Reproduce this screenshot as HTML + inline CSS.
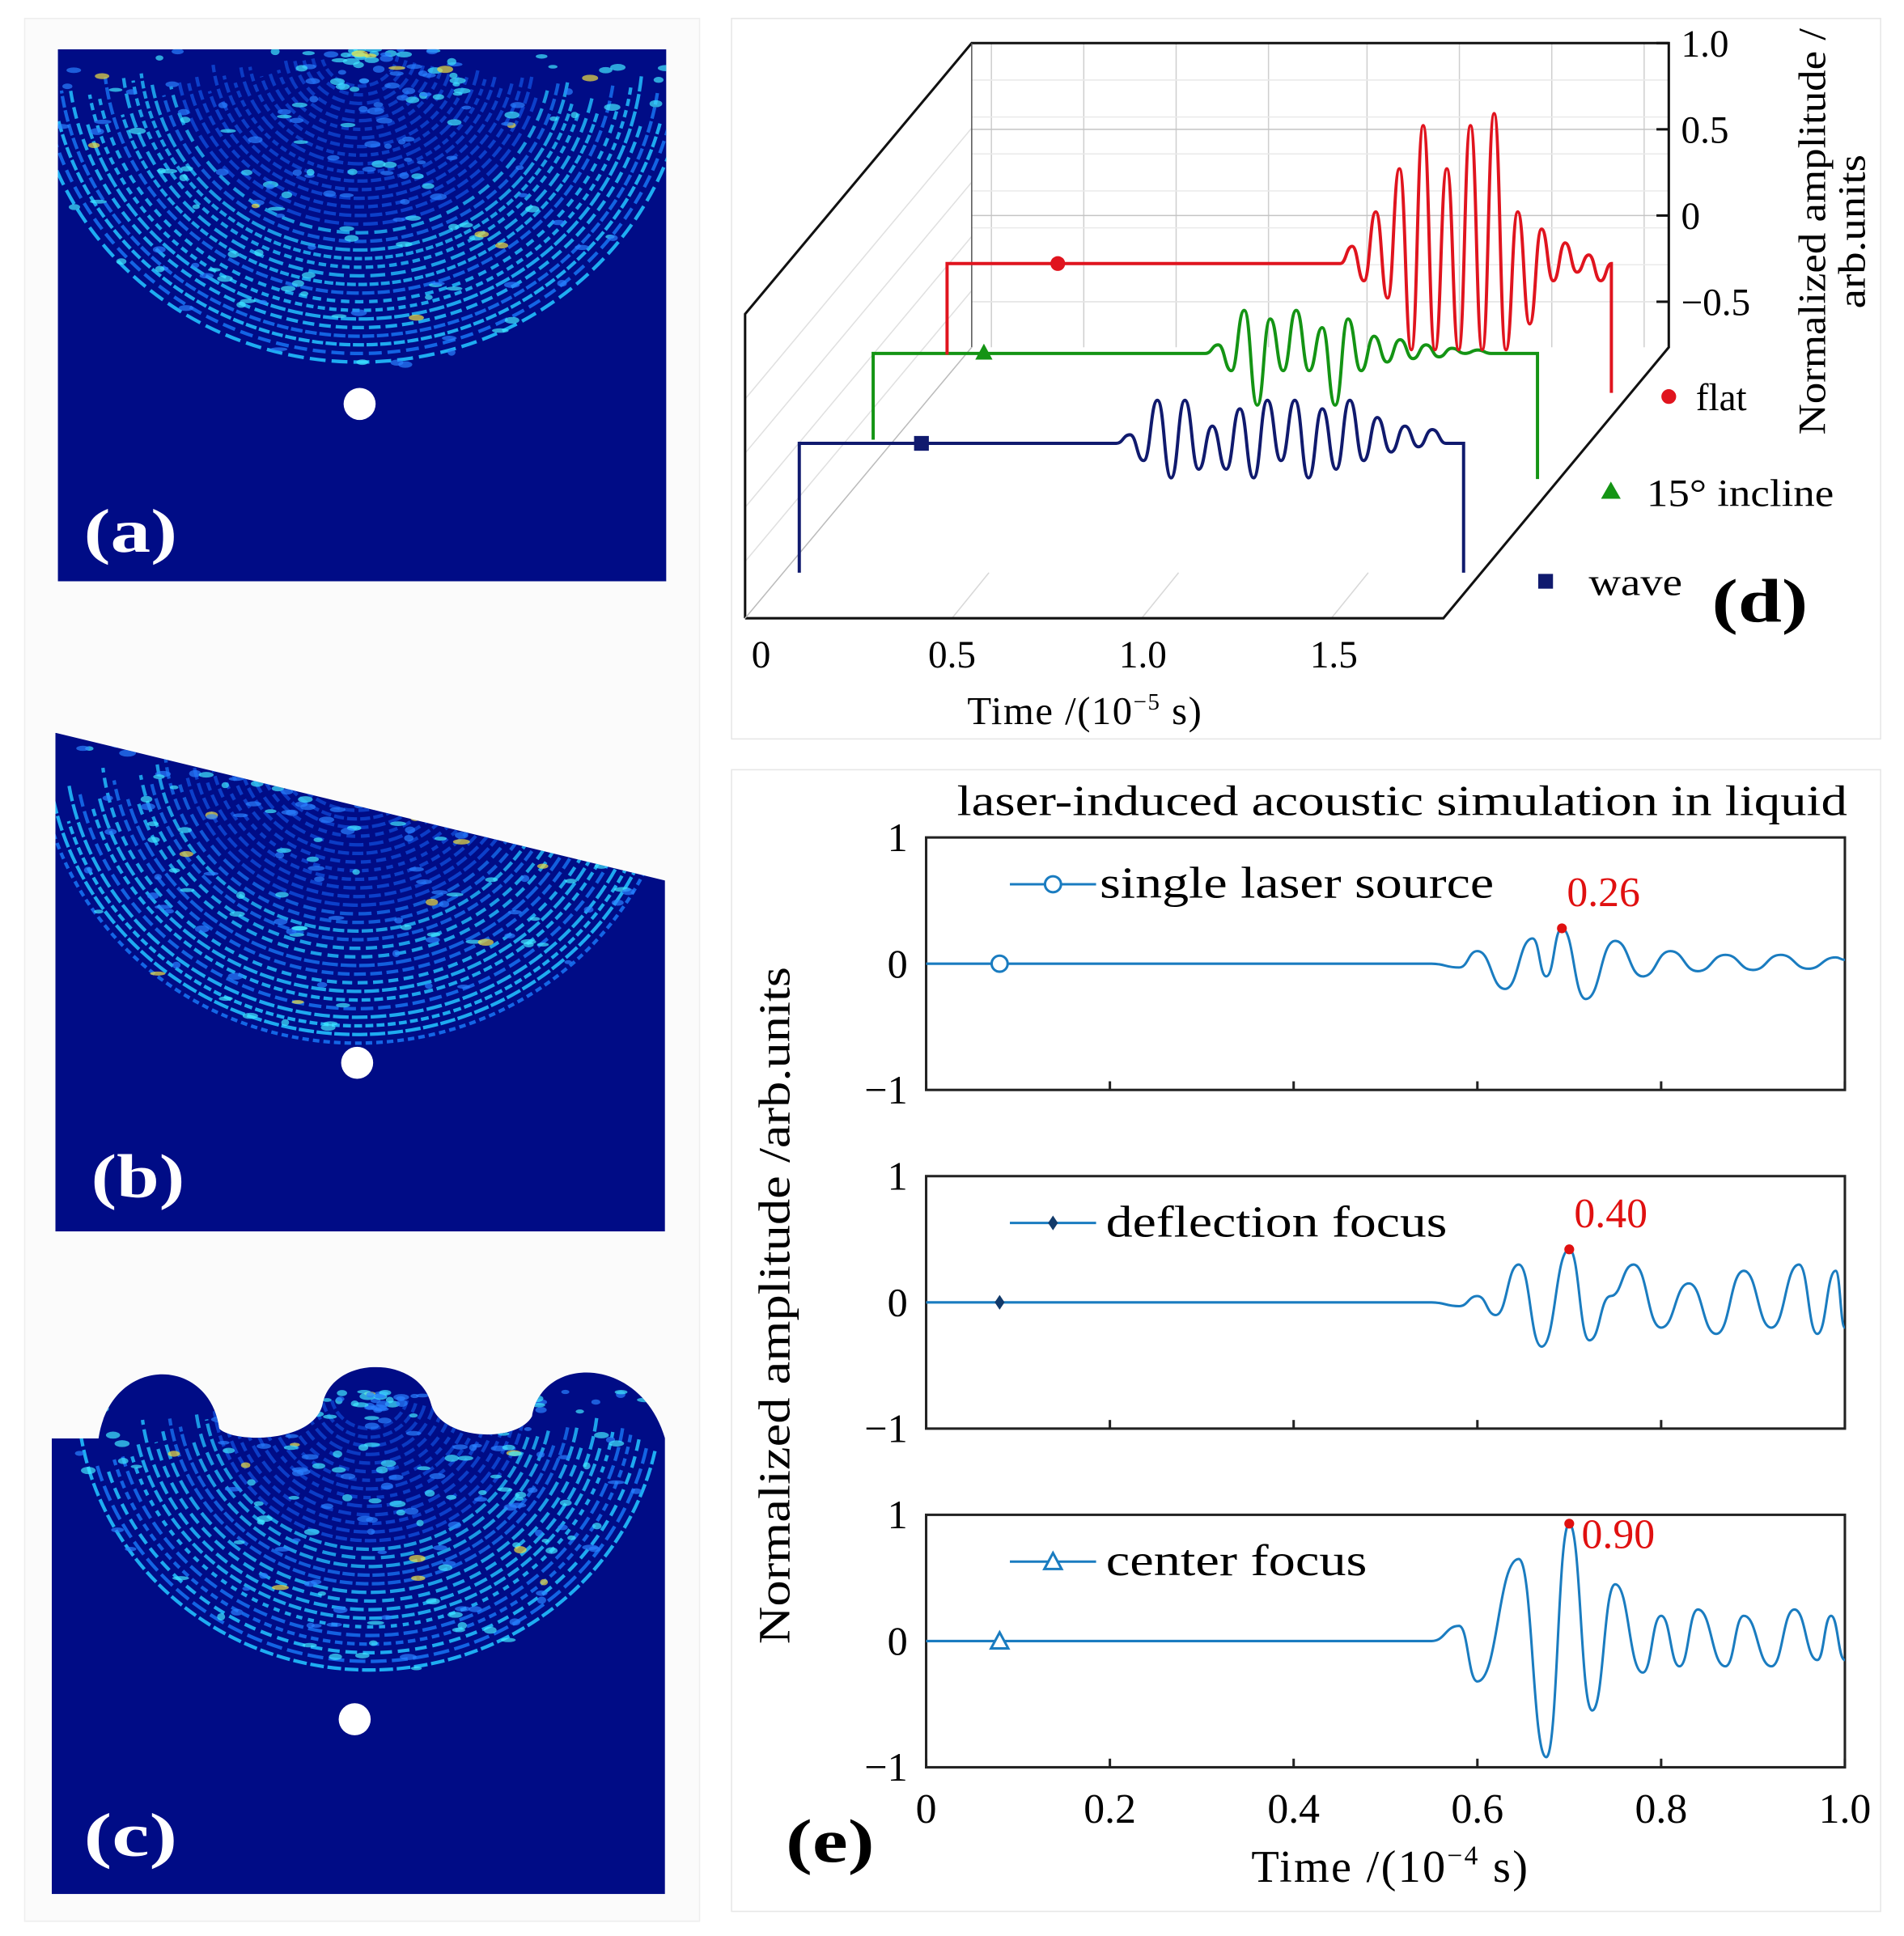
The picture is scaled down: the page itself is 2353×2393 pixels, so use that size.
<!DOCTYPE html>
<html><head><meta charset="utf-8">
<style>
html,body{margin:0;padding:0;background:#fff;}
svg{display:block;}
text{font-family:"Liberation Serif",serif;}
</style></head>
<body>
<svg id="fig" xmlns="http://www.w3.org/2000/svg" width="2353" height="2393" viewBox="0 0 1546 1572" preserveAspectRatio="none">
<defs>
<clipPath id="clipA"><rect x="47" y="40" width="494" height="432"/></clipPath>
<clipPath id="clipB"><polygon points="45,595 540,715 540,1000 45,1000"/></clipPath>
<clipPath id="clipC"><path d="M42,1168 L80,1168 C90,1100 170,1100 178,1160 C190,1172 255,1172 262,1140 C270,1100 340,1100 350,1140 C358,1170 420,1172 432,1150 C440,1100 520,1100 540,1168 L540,1538 L42,1538 Z"/></clipPath>
</defs>
<rect x="0" y="0" width="1546" height="1572" fill="#fff"/>
<rect x="20" y="15" width="548" height="1545" fill="#fbfbfb" stroke="#eeeeee"/>
<rect x="594" y="15" width="933" height="585" fill="#fff" stroke="#e6e6e6"/>
<rect x="594" y="625" width="933" height="927" fill="#fff" stroke="#e6e6e6"/>
<g id="heatmaps"></g>
<g id="pd"></g>
<g id="pe"></g>
</svg>
<script>
// ---------- Panel (d) data ----------
const dSeriesNames = ["wave", "15° incline", "flat"];
const dColors = ["#101a6e", "#149414", "#e0141e"];
const dStartT = [0.93, 0.97, 1.13];
const dHalfStep = [0.036, 0.034, 0.031];
const dMarkerT = [0.42, 0.39, 0.39];
const dBlueVals = [0.05,-0.1,0.25,-0.2,0.25,-0.15,0.1,-0.15,0.2,-0.2,0.25,-0.1,0.25,-0.2,0.2,-0.15,0.25,-0.1,0.15,-0.05,0.1,-0.02,0.08,0];
const dGreenVals = [0.05,-0.1,0.25,-0.3,0.2,-0.1,0.25,-0.1,0.15,-0.3,0.2,-0.1,0.1,-0.05,0.08,-0.03,0.05,-0.02,0.03,0,0.02,0];
const dRedVals = [0.1,-0.1,0.3,-0.2,0.55,-0.5,0.8,-0.5,0.55,-0.5,0.8,-0.5,0.87,-0.5,0.3,-0.35,0.2,-0.1,0.12,-0.05,0.05,-0.1];
const dTicks = [0, 0.5, 1.0, 1.5];
const dZTicks = ["1.0","0.5","0","−0.5"];
const dZVals = [1.0, 0.5, 0, -0.5];

// ---------- Panel (e) data ----------
const eNames = ["single laser source", "deflection focus", "center focus"];
const eNameWidths = [320, 277, 212];
const ePeakLabels = ["0.26", "0.40", "0.90"];
const ePeakT = [0.692, 0.700, 0.700];
const ePeakV = [0.28, 0.42, 0.93];
const eT1 = [0.55,0.58,0.60,0.63,0.66,0.675,0.692,0.718,0.75,0.78,0.81,0.84,0.87,0.90,0.93,0.96,0.99,1.0];
const eV1 = [0,-0.03,0.1,-0.2,0.2,-0.1,0.28,-0.28,0.18,-0.1,0.1,-0.06,0.07,-0.05,0.07,-0.04,0.05,0.03];
const eT2 = [0.55,0.58,0.60,0.62,0.645,0.67,0.70,0.722,0.745,0.77,0.80,0.83,0.86,0.89,0.92,0.95,0.97,0.99,1.0];
const eV2 = [0,-0.03,0.05,-0.1,0.3,-0.35,0.42,-0.3,0.05,0.3,-0.2,0.15,-0.25,0.25,-0.2,0.3,-0.25,0.25,-0.2];
const eT3 = [0.55,0.58,0.60,0.645,0.675,0.70,0.725,0.75,0.78,0.80,0.82,0.84,0.87,0.89,0.92,0.945,0.97,0.985,1.0];
const eV3 = [0,0.12,-0.32,0.65,-0.92,0.93,-0.55,0.45,-0.25,0.2,-0.2,0.25,-0.2,0.2,-0.2,0.25,-0.15,0.2,-0.15];
const eXTicks = [0, 0.2, 0.4, 0.6, 0.8, 1.0];
const eXTickLabels = ["0","0.2","0.4","0.6","0.8","1.0"];
const eYTicks = [1, 0, -1];
const eYTickLabels = ["1","0","−1"];

const NS = "http://www.w3.org/2000/svg";
function mk(tag, attrs, parent, txt) {
  const e = document.createElementNS(NS, tag);
  for (const k in attrs) e.setAttribute(k, attrs[k]);
  if (txt !== undefined) e.textContent = txt;
  parent.appendChild(e);
  return e;
}
function smoothPath(pts) {
  let d = "M" + pts[0][0].toFixed(1) + "," + pts[0][1].toFixed(1);
  for (let i = 1; i < pts.length; i++) {
    const [x0, y0] = pts[i - 1], [x1, y1] = pts[i];
    const mx = (x0 + x1) / 2;
    d += " C" + mx.toFixed(1) + "," + y0.toFixed(1) + " " + mx.toFixed(1) + "," + y1.toFixed(1) + " " + x1.toFixed(1) + "," + y1.toFixed(1);
  }
  return d;
}

// ---------- Heatmaps (decorative texture) ----------
(function () {
  const g = document.getElementById("heatmaps");
  let seed = 7;
  function rnd() { seed = (seed * 16807) % 2147483647; return seed / 2147483647; }
  const panels = [
    { clip: "clipA", name: "heatmap-a", bx: 47, by: 40, bw: 494, bh: 432, cx: 292, cy: 40, dot: [292, 328], lab: "(a)", lx: 68, ly: 448, rmax: 260 },
    { clip: "clipB", name: "heatmap-b", bx: 45, by: 595, bw: 495, bh: 405, cx: 290, cy: 600, dot: [290, 863], lab: "(b)", lx: 74, ly: 972, rmax: 250 },
    { clip: "clipC", name: "heatmap-c", bx: 42, by: 1100, bw: 498, bh: 438, cx: 300, cy: 1130, dot: [288, 1396], lab: "(c)", lx: 68, ly: 1507, rmax: 230 }
  ];
  panels.forEach(p => {
    const pg = mk("g", { "clip-path": "url(#" + p.clip + ")" }, g);
    
    
    mk("rect", { x: p.bx, y: p.by, width: p.bw, height: p.bh, fill: "#000c86" }, pg);
    for (let r = 30; r < p.rmax; r += 7) {
      const a0 = 0.1 + rnd() * 0.2, a1 = Math.PI - 0.1 - rnd() * 0.2;
      const x0 = p.cx + r * 1.05 * Math.cos(a0), y0 = p.cy + r * Math.sin(a0);
      const x1 = p.cx + r * 1.05 * Math.cos(a1), y1 = p.cy + r * Math.sin(a1);
      const frac = r / p.rmax;
      const col = frac > 0.55 ? (rnd() > 0.4 ? "#22c0ff" : "#1670f0") : "#1050e0";
      mk("path", { d: `M${x0},${y0} A${r * 1.05},${r} 0 0 1 ${x1},${y1}`, fill: "none", stroke: col, "stroke-width": 2.8, "stroke-dasharray": (5 + rnd() * 8).toFixed(1) + " " + (2 + rnd() * 3).toFixed(1), opacity: 0.6 + 0.3 * frac }, pg);
    }
    for (let i = 0; i < 200; i++) {
      const a = rnd() * Math.PI, r = rnd() * p.rmax;
      const x = p.cx + r * 1.05 * Math.cos(a), y = p.cy + r * Math.sin(a);
      const c = rnd();
      mk("ellipse", { cx: x, cy: y, rx: 3 + rnd() * 4, ry: 1.5 + rnd() * 1.5, fill: c > 0.93 ? "#f0e040" : (c > 0.45 ? "#40e8ff" : "#2a80ff"), opacity: 0.7 }, pg);
    }
    const dot = mk("circle", { cx: p.dot[0], cy: p.dot[1], r: 13, fill: "#fff" }, g);
    
    
    const t = mk("text", { x: p.lx, y: p.ly, fill: "#fff", "font-size": 50, "font-weight": "bold", textLength: 76, lengthAdjust: "spacingAndGlyphs" }, g, p.lab);
    
    
  });
})();

// ---------- Panel (d) ----------
(function () {
  const g = document.getElementById("pd");
  const xF = t => 618 + 310 * t;
  const depthDx = 60, depthDy = -73, ampPx = 140;
  const baseY = 360;
  const grid = mk("g", { stroke: "#cfcfcf", "stroke-width": 1 }, g);
  
  
  [805, 880, 955, 1030, 1110, 1185, 1260, 1335].forEach(x => mk("line", { x1: x, y1: 35, x2: x, y2: 282 }, grid));
  dZVals.forEach(v => { const y = 175 - v * 140; mk("line", { x1: 789, y1: y, x2: 1355, y2: y, stroke: "#c4c4c4" }, grid); });
  for (let k = 1; k < 8; k++) {
    const y = 35 + k * 30; mk("line", { x1: 789, y1: y, x2: 1355, y2: y, stroke: "#eaeaea" }, grid);
  }
  for (let k = 1; k < 5; k++) {
    const yy = 280 + k * 44;
    mk("line", { x1: 605, y1: yy, x2: 789, y2: yy - 220, stroke: "#e0e0e0" }, grid);
  }
  [773, 927, 1081].forEach(x => mk("line", { x1: x, y1: 502, x2: x + 30, y2: 465, stroke: "#d8d8d8" }, grid));
  const ax = mk("g", { stroke: "#111", "stroke-width": 2, fill: "none" }, g);
  
  
  mk("polyline", { points: "605,502 605,255 789,35 1355,35 1355,282 1172,502 605,502" }, ax);
  mk("line", { x1: 789, y1: 35, x2: 789, y2: 282, stroke: "#555", "stroke-width": 1 }, ax);
  mk("line", { x1: 605, y1: 502, x2: 789, y2: 282, stroke: "#bbb", "stroke-width": 1 }, ax);
  dZVals.forEach((v, i) => {
    const y = 175 - v * 140;
    mk("line", { x1: 1355, y1: y, x2: 1345, y2: y, stroke: "#111", "stroke-width": 2 }, g);
    const t = mk("text", { x: 1365, y: y + 11, "font-size": 31 }, g, dZTicks[i]);
    
    
  });
  dTicks.forEach(v => {
    const t = mk("text", { x: xF(v), y: 542, "font-size": 31, "text-anchor": "middle" }, g, v === 0 ? "0" : v.toFixed(1));
    
    
  });
  const xt = mk("text", { x: 881, y: 588, "font-size": 32, "text-anchor": "middle", "letter-spacing": 1 }, g);
  
  
  xt.innerHTML = 'Time /(10<tspan dy="-12" font-size="19">−5</tspan><tspan dy="12"> s)</tspan>';
  const zt = mk("g", { transform: "translate(1482,188) rotate(-90)" }, g);
  
  
  mk("text", { x: 0, y: 0, "font-size": 31, "text-anchor": "middle", textLength: 330, lengthAdjust: "spacingAndGlyphs" }, zt, "Normalized amplitude /");
  mk("text", { x: 0, y: 32, "font-size": 31, "text-anchor": "middle", textLength: 125, lengthAdjust: "spacingAndGlyphs" }, zt, "arb.units");
  const vals = [dBlueVals, dGreenVals, dRedVals];
  const endDrop = [105, 102, 105];
  for (let i = 0; i < 3; i++) {
    const dx = depthDx * i, by = baseY + depthDy * i;
    const X = t => xF(t) + dx, Y = v => by - v * ampPx;
    const pts = [[X(0.1), Y(0)], [X(dStartT[i]), Y(0)]];
    vals[i].forEach((v, k) => pts.push([X(dStartT[i] + dHalfStep[i] * (k + 1)), Y(v)]));
    pts.push([X(1.84), Y(0)]);
    let d = "M" + X(0.1) + "," + (by + endDrop[i]) + " L" + X(0.1) + "," + by + " " + smoothPath(pts).replace(/^M/, "L") + " L" + X(1.84) + "," + (by + endDrop[i]);
    if (i === 1) d = d.replace(/^M[^L]*L/, "M" + X(0.1) + "," + (by + 70) + " L");
    if (i === 2) d = d.replace(/^M[^L]*L/, "M" + X(0.1) + "," + (by + 74) + " L");
    const p = mk("path", { d: d, fill: "none", stroke: dColors[i], "stroke-width": 2.6 }, g);
    
    
    const mx = X(dMarkerT[i]), my = by;
    let m;
    if (i === 0) m = mk("rect", { x: mx - 6, y: my - 6, width: 12, height: 12, fill: dColors[i] }, g);
    else if (i === 1) m = mk("polygon", { points: `${mx},${my - 8} ${mx - 7},${my + 5} ${mx + 7},${my + 5}`, fill: dColors[i] }, g);
    else m = mk("circle", { cx: mx, cy: my, r: 6, fill: dColors[i] }, g);
    
    
  }
  const lg = mk("g", {}, g);
  
  
  mk("circle", { cx: 1355, cy: 322, r: 6, fill: dColors[2] }, lg);
  mk("text", { x: 1377, y: 333, "font-size": 31 }, lg, "flat");
  mk("polygon", { points: "1308,391 1300,405 1316,405", fill: dColors[1] }, lg);
  mk("text", { x: 1337, y: 411, "font-size": 31, textLength: 152, lengthAdjust: "spacingAndGlyphs" }, lg, "15° incline");
  mk("rect", { x: 1249, y: 466, width: 12, height: 12, fill: dColors[0] }, lg);
  mk("text", { x: 1290, y: 483, "font-size": 31, textLength: 76, lengthAdjust: "spacingAndGlyphs" }, lg, "wave");
  const dl = mk("text", { x: 1390, y: 505, "font-size": 50, "font-weight": "bold", textLength: 78, lengthAdjust: "spacingAndGlyphs" }, g, "(d)");
  
  
})();

// ---------- Panel (e) ----------
(function () {
  const g = document.getElementById("pe");
  const x0 = 752, x1 = 1498;
  const X = t => x0 + (x1 - x0) * t;
  const tops = [680, 955, 1230], h = 205;
  const Ts = [eT1, eT2, eT3], Vs = [eV1, eV2, eV3];
  const title = mk("text", { x: 777, y: 662, "font-size": 35, textLength: 723, lengthAdjust: "spacingAndGlyphs" }, g, "laser-induced acoustic simulation in liquid");
  
  
  for (let i = 0; i < 3; i++) {
    const top = tops[i];
    const Y = v => top + h / 2 - v * h / 2;
    const fr = mk("rect", { x: x0, y: top, width: x1 - x0, height: h, fill: "none", stroke: "#222", "stroke-width": 2 }, g);
    
    
    eXTicks.forEach(t => mk("line", { x1: X(t), y1: top + h, x2: X(t), y2: top + h - 7, stroke: "#222", "stroke-width": 2 }, g));
    eYTicks.forEach((v, k) => {
      const tl = mk("text", { x: 737, y: Y(v) + 11, "font-size": 33, "text-anchor": "end" }, g, eYTickLabels[k]);
      
      
    });
    const pts = [[X(0), Y(0)]];
    Ts[i].forEach((t, k) => pts.push([X(t), Y(Vs[i][k])]));
    const p = mk("path", { d: smoothPath(pts), fill: "none", stroke: "#1a7cc0", "stroke-width": 2 }, g);
    
    
    const mkMarker = (cx, cy) => {
      let m;
      if (i === 0) m = mk("circle", { cx: cx, cy: cy, r: 6.5, fill: "#fff", stroke: "#1a7cc0", "stroke-width": 2 }, g);
      else if (i === 1) m = mk("polygon", { points: `${cx},${cy - 6} ${cx + 4},${cy} ${cx},${cy + 6} ${cx - 4},${cy}`, fill: "#123a6a" }, g);
      else m = mk("polygon", { points: `${cx},${cy - 7} ${cx - 7},${cy + 6} ${cx + 7},${cy + 6}`, fill: "#fff", stroke: "#1a7cc0", "stroke-width": 2 }, g);
      
      
    };
    mkMarker(X(0.08), Y(0));
    const ly = top + 38;
    mk("line", { x1: 820, y1: ly, x2: 890, y2: ly, stroke: "#1a7cc0", "stroke-width": 2 }, g);
    mkMarker(855, ly);
    const lt = mk("text", { x: i === 0 ? 893 : 898, y: ly + 11, "font-size": 36, textLength: eNameWidths[i], lengthAdjust: "spacingAndGlyphs" }, g, eNames[i]);
    
    
    const pk = mk("circle", { cx: X(ePeakT[i]), cy: Y(ePeakV[i]), r: 4, fill: "#e01010" }, g);
    
    
    const pl = mk("text", { x: X(ePeakT[i]) + (i === 2 ? 10 : 4), y: Y(ePeakV[i]) - (i === 2 ? -20 : 18), "font-size": 34, fill: "#e01010" }, g, ePeakLabels[i]);
    
    
  }
  eXTicks.forEach((t, k) => {
    const tl = mk("text", { x: X(t), y: 1480, "font-size": 34, "text-anchor": "middle" }, g, eXTickLabels[k]);
    
    
  });
  const xt = mk("text", { x: 1129, y: 1528, "font-size": 37, "text-anchor": "middle", "letter-spacing": 1.5 }, g);
  
  
  xt.innerHTML = 'Time /(10<tspan dy="-14" font-size="22">−4</tspan><tspan dy="14"> s)</tspan>';
  const yt = mk("text", { x: 0, y: 0, "font-size": 36, "text-anchor": "middle", transform: "translate(641,1060) rotate(-90)", textLength: 550, lengthAdjust: "spacingAndGlyphs" }, g, "Normalized amplitude /arb.units");
  
  
  const el = mk("text", { x: 638, y: 1512, "font-size": 50, "font-weight": "bold", textLength: 72, lengthAdjust: "spacingAndGlyphs" }, g, "(e)");
  
  
})();
</script>
</body></html>
